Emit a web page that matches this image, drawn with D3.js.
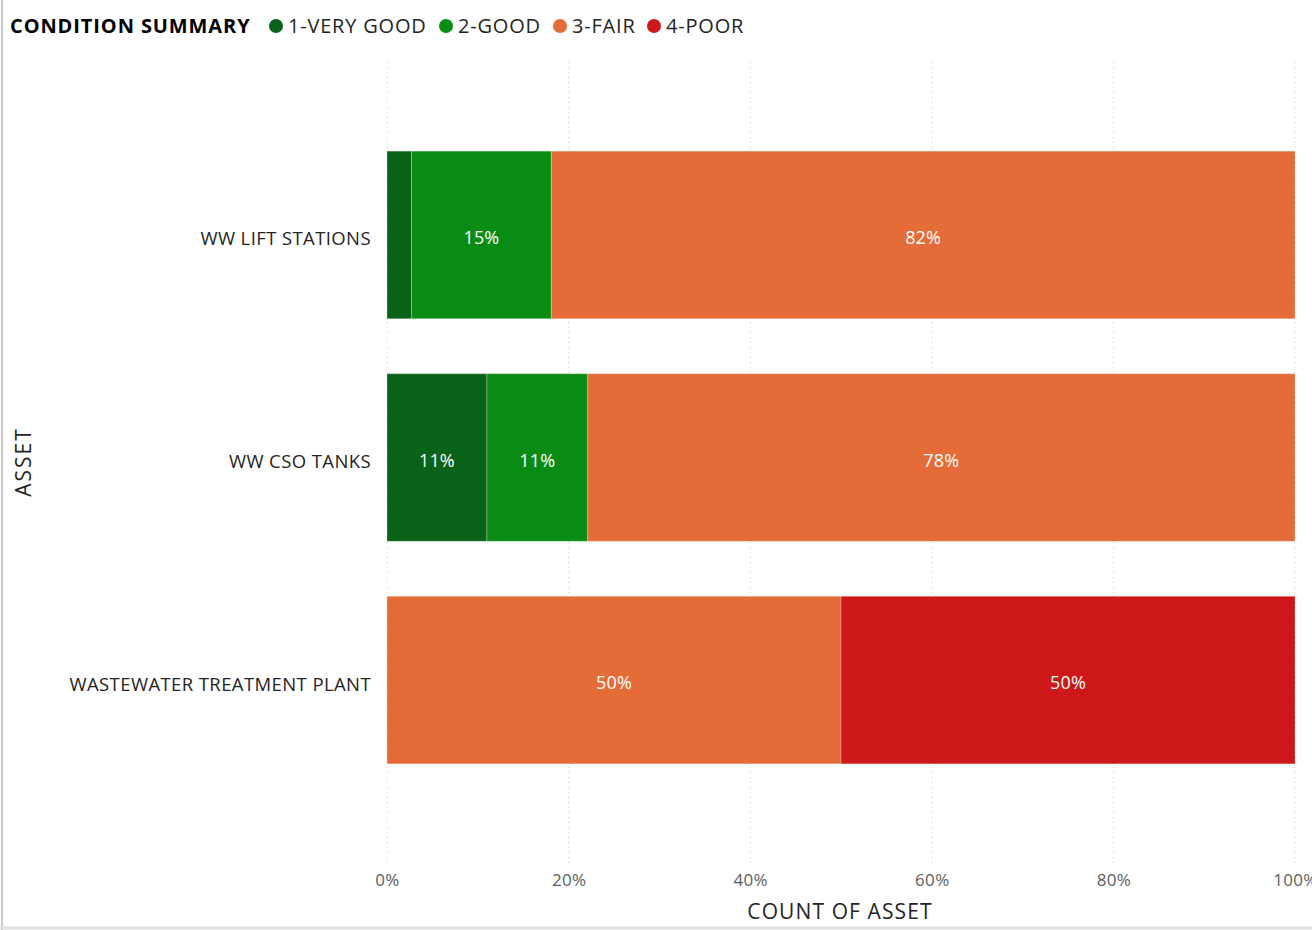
<!DOCTYPE html>
<html>
<head>
<meta charset="utf-8">
<script src="https://cdn.jsdelivr.net/npm/d3@7"></script>
<style>
    body { margin: 0; background: #fff; }
    svg { display: block; font-family: "Open Sans", "Noto Sans", sans-serif; }
</style>
</head>
<body>
<svg id="chart" width="1312" height="930"></svg>
<script>
// data (percent of assets per condition)
var assets = ['WW LIFT STATIONS', 'WW CSO TANKS', 'WASTEWATER TREATMENT PLANT'];
var conditions = ['1-VERY GOOD', '2-GOOD', '3-FAIR', '4-POOR'];
var colors = ['#0b6219', '#0a8c14', '#e56c39', '#cd1719'];
var veryGood = [2.7, 11, 0];
var good = [15.4, 11.1, 0];
var fair = [81.9, 77.9, 50];
var poor = [0, 0, 50];
var xTicks = [0, 0.2, 0.4, 0.6, 0.8, 1];

var svg = d3.select('#chart');
var margin = {top: 62, left: 387, right: 17, bottom: 65};
var width = 1312 - margin.left - margin.right,
    height = 930 - margin.top - margin.bottom;

// frame lines
svg.append('line')
    .attr('x1', 2).attr('x2', 2).attr('y1', 0).attr('y2', 930)
    .attr('stroke', '#c8c8c8').attr('stroke-width', 2);
svg.append('line')
    .attr('x1', 0).attr('x2', 1312).attr('y1', 928).attr('y2', 928)
    .attr('stroke', '#e0e0e0').attr('stroke-width', 3);

var g = svg.append('g')
    .attr('transform', 'translate(' + margin.left + ',' + margin.top + ')');

var rows = assets.map(function (a, i) {
    return {asset: a, values: [veryGood[i], good[i], fair[i], poor[i]]};
});

var xScale = d3.scaleLinear().domain([0, 1]).range([0, width]);
var yScale = d3.scaleBand().domain(assets)
    .range([95.5 - margin.top, 819.5 - margin.top])
    .paddingInner(0.247).paddingOuter(0.25);

// gridlines
g.selectAll('.grid')
    .data(xTicks)
    .enter().append('line')
        .attr('class', 'grid')
        .attr('x1', d => xScale(d)).attr('x2', d => xScale(d))
        .attr('y1', 0).attr('y2', height - 2)
        .attr('stroke', '#c8c8c8')
        .attr('stroke-dasharray', '1,4');

// stacked segments
var segs = [];
rows.forEach(function (r) {
    var total = d3.sum(r.values), acc = 0;
    r.values.forEach(function (v, k) {
        if (v > 0) segs.push({asset: r.asset, k: k, x0: acc / total, x1: (acc + v) / total, v: v});
        acc += v;
    });
});

g.selectAll('.seg')
    .data(segs)
    .enter().append('rect')
        .attr('class', 'seg')
        .attr('x', d => xScale(d.x0))
        .attr('width', d => xScale(d.x1) - xScale(d.x0))
        .attr('y', d => yScale(d.asset))
        .attr('height', yScale.bandwidth())
        .attr('fill', d => colors[d.k])
        .attr('stroke', 'rgba(255,255,255,0.25)')
        .attr('stroke-width', 1);

g.selectAll('.lbl')
    .data(segs.filter(d => d.v >= 5))
    .enter().append('text')
        .attr('class', 'lbl')
        .attr('x', d => (xScale(d.x0) + xScale(d.x1)) / 2)
        .attr('y', d => yScale(d.asset) + yScale.bandwidth() / 2 + 3)
        .attr('dy', '0.35em')
        .attr('text-anchor', 'middle')
        .attr('fill', '#fff')
        .style('font-size', '18px')
        .style('letter-spacing', '0.2px')
        .text(d => Math.round(d.v) + '%');

// y axis labels
g.selectAll('.cat')
    .data(assets)
    .enter().append('text')
        .attr('class', 'cat')
        .attr('x', -16)
        .attr('y', d => yScale(d) + yScale.bandwidth() / 2 + 4)
        .attr('dy', '0.35em')
        .attr('text-anchor', 'end')
        .attr('fill', '#252423')
        .style('font-size', '18.5px')
        .style('letter-spacing', '0.4px')
        .text(d => d);

// x axis
var xAxisCall = d3.axisBottom(xScale)
    .tickValues(xTicks)
    .tickFormat(d3.format('.0%'))
    .tickSize(0);
var xAxis = g.append('g')
    .attr('transform', 'translate(0,' + (height + 6) + ')')
    .call(xAxisCall);
xAxis.select('.domain').remove();
xAxis.selectAll('text')
    .attr('fill', '#605e5c')
    .style('font-size', '17px')
    .style('letter-spacing', '0.3px')
    .style('font-family', '"Open Sans", sans-serif');

// axis titles
svg.append('text')
    .attr('x', 840)
    .attr('y', 919)
    .attr('text-anchor', 'middle')
    .attr('fill', '#252423')
    .style('font-size', '21px')
    .style('letter-spacing', '1.1px')
    .text('COUNT OF ASSET');

svg.append('text')
    .attr('transform', 'rotate(-90)')
    .attr('x', -462)
    .attr('y', 31)
    .attr('text-anchor', 'middle')
    .attr('fill', '#252423')
    .style('font-size', '21px')
    .style('letter-spacing', '2px')
    .text('ASSET');

// legend
svg.append('text')
    .attr('x', 10)
    .attr('y', 33)
    .attr('fill', '#000')
    .style('font-size', '20px')
    .style('font-weight', 'bold')
    .style('letter-spacing', '0.9px')
    .text('CONDITION SUMMARY');

var legendX = [276, 446, 560, 654];
var legend = svg.selectAll('.leg')
    .data(conditions)
    .enter().append('g')
        .attr('class', 'leg')
        .attr('transform', (d, i) => 'translate(' + legendX[i] + ',26)');
legend.append('circle')
    .attr('r', 7)
    .attr('fill', (d, i) => colors[i]);
legend.append('text')
    .attr('x', 12)
    .attr('dy', '0.35em')
    .attr('fill', '#252423')
    .style('font-size', '20px')
    .style('letter-spacing', '0.8px')
    .text(d => d);
</script>
</body>
</html>
